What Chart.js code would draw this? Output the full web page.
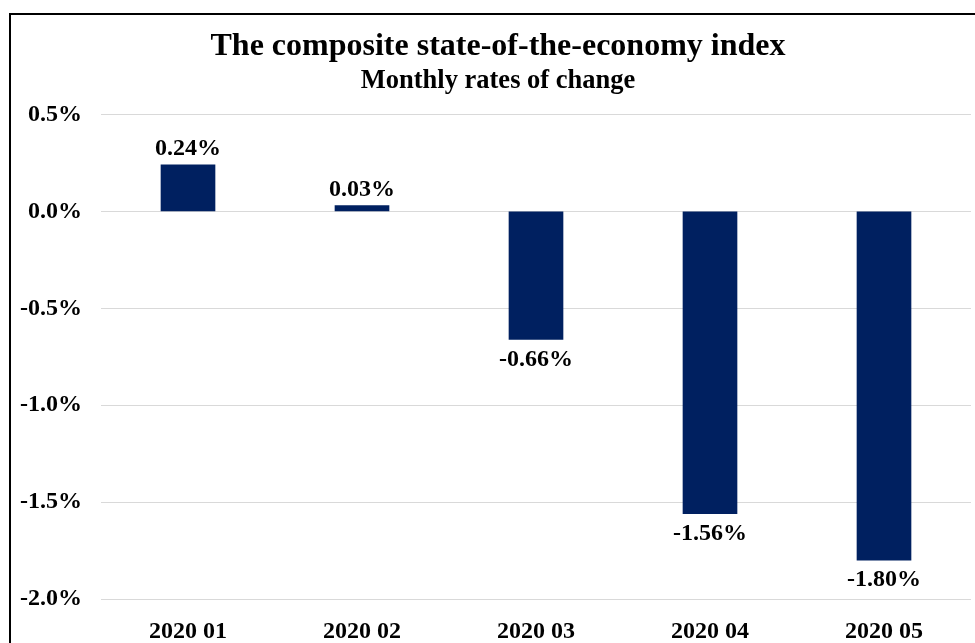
<!DOCTYPE html>
<html>
<head>
<meta charset="utf-8">
<script src="https://cdn.jsdelivr.net/npm/chart.js@4"></script>
<style>
html,body{margin:0;padding:0;background:#fff;overflow:hidden;width:975px;height:643px;}
#box{position:absolute;left:9px;top:13px;border:2px solid #000;width:975px;height:640px;}
canvas{display:block;}
</style>
</head>
<body>
<div id="box"><canvas id="c" width="974" height="640"></canvas></div>
<script>
const categories = ['2020 01', '2020 02', '2020 03', '2020 04', '2020 05'];
const rates = [0.24, 0.03, -0.66, -1.56, -1.80];
const titleText = 'The composite state-of-the-economy index';
const subtitleText = 'Monthly rates of change';

const FONT = '"Liberation Serif", "Times New Roman", serif';

const headerPlugin = {
  id: 'header',
  afterDraw(chart) {
    const ctx = chart.ctx;
    const cx = chart.width / 2;
    ctx.save();
    ctx.fillStyle = '#000';
    ctx.textAlign = 'center';
    ctx.textBaseline = 'middle';
    ctx.font = 'bold 32px ' + FONT;
    ctx.fillText(titleText, cx, 32);
    ctx.font = 'bold 26.5px ' + FONT;
    ctx.fillText(subtitleText, cx, 66);
    ctx.restore();
  }
};

const dataLabels = {
  id: 'dataLabels',
  afterDatasetsDraw(chart) {
    const ctx = chart.ctx;
    const meta = chart.getDatasetMeta(0);
    ctx.save();
    ctx.font = 'bold 24px ' + FONT;
    ctx.fillStyle = '#000';
    ctx.textAlign = 'center';
    meta.data.forEach((bar, i) => {
      const v = rates[i];
      const txt = v.toFixed(2) + '%';
      if (v >= 0) {
        ctx.textBaseline = 'alphabetic';
        ctx.fillText(txt, bar.x, bar.y - 10);
      } else {
        ctx.textBaseline = 'top';
        ctx.fillText(txt, bar.x, bar.y + 8);
      }
    });
    ctx.restore();
  }
};

new Chart(document.getElementById('c'), {
  type: 'bar',
  data: {
    labels: categories,
    datasets: [{
      data: rates,
      backgroundColor: '#002060',
      borderWidth: 0,
      barThickness: 54
    }]
  },
  plugins: [dataLabels, headerPlugin],
  options: {
    responsive: false,
    animation: false,
    layout: { padding: { left: 0, right: 14, top: 99.5, bottom: 0 } },
    plugins: {
      legend: { display: false },
      tooltip: { enabled: false },
      title: { display: false },
      subtitle: { display: false }
    },
    scales: {
      x: {
        grid: { display: false, drawTicks: false },
        border: { display: false },
        ticks: { color: '#000', font: { family: FONT, size: 24, weight: 'bold' }, padding: 18, maxRotation: 0 },
        afterFit(s) { s.height = 56; }
      },
      y: {
        min: -2,
        max: 0.5,
        grid: { color: '#d9d9d9', lineWidth: 1, drawTicks: false },
        border: { display: false },
        ticks: {
          stepSize: 0.5,
          color: '#000',
          padding: 19,
          font: { family: FONT, size: 24, weight: 'bold' },
          callback: v => v.toFixed(1) + '%'
        },
        afterFit(s) { s.width = 90; }
      }
    }
  }
});
</script>
</body>
</html>
